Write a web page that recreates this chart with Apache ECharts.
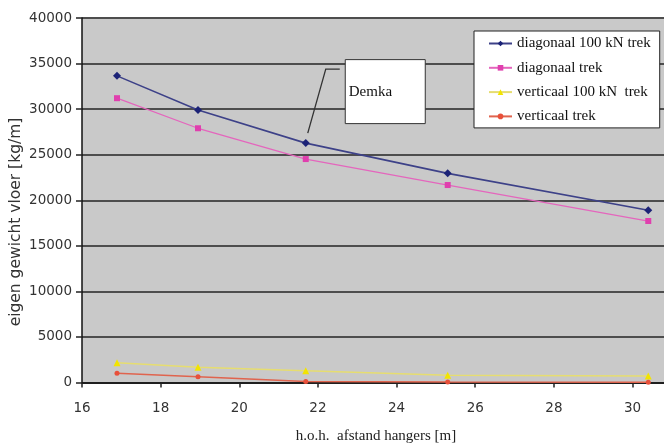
<!DOCTYPE html>
<html>
<head>
<meta charset="utf-8">
<script src="https://cdn.jsdelivr.net/npm/echarts@6/dist/echarts.min.js"></script>
<style>html,body{margin:0;padding:0;background:#fff}#c{width:664px;height:443px}</style>
</head>
<body>
<div id="c"></div>
<script>
// h.o.h. afstand hangers [m]
const xValues = [16.89, 18.95, 21.69, 25.3, 30.4];
const diagonaal100 = [33650, 29900, 26270, 22950, 18900];
const diagonaalTrek = [31200, 27900, 24520, 21670, 17720];
const verticaal100 = [2170, 1670, 1300, 800, 720];
const verticaalTrek = [1010, 640, 120, 50, 40];
const seriesNames = ['diagonaal 100 kN trek', 'diagonaal trek', 'verticaal 100 kN  trek', 'verticaal trek'];
const xTicks = [16, 18, 20, 22, 24, 26, 28, 30];
const yTicks = [0, 5000, 10000, 15000, 20000, 25000, 30000, 35000, 40000];

const pairs = arr => xValues.map((x, i) => [x, arr[i]]);
const chart = echarts.init(document.getElementById('c'));
const serif = 'Liberation Serif';
const sans = 'DejaVu Sans';

chart.setOption({
  animation: false,
  backgroundColor: '#ffffff',
  grid: {left: 82, top: 18, right: 0, bottom: 60.5, show: true, backgroundColor: '#c9c9c9', borderWidth: 0,
         containLabel: false, outerBoundsMode: 'none'},
  legend: {
    orient: 'vertical', left: 474, top: 31,
    backgroundColor: '#ffffff', borderColor: '#222', borderWidth: 1,
    padding: [5, 9, 4, 14], itemWidth: 23, itemHeight: 7, itemGap: 9.3,
    textStyle: {fontFamily: serif, fontSize: 15, color: '#111', lineHeight: 14},
    data: seriesNames
  },
  xAxis: {
    type: 'value', min: 16, max: 30.8,
    axisLine: {show: true, lineStyle: {color: '#111', width: 1.5}},
    axisTick: {show: true, length: 5, lineStyle: {color: '#222', width: 1.5}, customValues: xTicks},
    axisLabel: {customValues: xTicks, fontFamily: sans, fontSize: 13.5, color: '#333', margin: 19},
    splitLine: {show: false},
    name: 'h.o.h.  afstand hangers [m]', nameLocation: 'middle', nameGap: 46,
    nameTextStyle: {fontFamily: serif, fontSize: 15, color: '#222', padding: [0, 0, 0, 6]}
  },
  yAxis: {
    type: 'value', min: 0, max: 40000, interval: 5000,
    axisLine: {show: true, lineStyle: {color: '#111', width: 1.5}},
    axisTick: {show: true, length: 6, lineStyle: {color: '#222', width: 1.5}},
    axisLabel: {customValues: yTicks, formatter: v => String(v), fontFamily: sans, fontSize: 13.5, color: '#333', margin: 10},
    splitLine: {show: true, lineStyle: {color: '#4d4d4d', width: 2}}
  },
  series: [
    {name: seriesNames[0], type: 'line', data: pairs(diagonaal100), symbol: 'diamond', symbolSize: 8,
     itemStyle: {color: '#1c2377'}, lineStyle: {color: '#3d4188', width: 1.6}},
    {name: seriesNames[1], type: 'line', data: pairs(diagonaalTrek), symbol: 'rect', symbolSize: 6,
     itemStyle: {color: '#e03fae'}, lineStyle: {color: '#e466bd', width: 1.3}},
    {name: seriesNames[2], type: 'line', data: pairs(verticaal100), symbol: 'triangle', symbolSize: 7,
     itemStyle: {color: '#f2e400'}, lineStyle: {color: '#e6dd70', width: 1.5}},
    {name: seriesNames[3], type: 'line', data: pairs(verticaalTrek), symbol: 'circle', symbolSize: 5,
     itemStyle: {color: '#e8503a'}, lineStyle: {color: '#e0644e', width: 1.5}}
  ]
});

// callout "Demka" anchored at the third point of the first series
const a = chart.convertToPixel({gridIndex: 0}, [xValues[2], diagonaal100[2]]);
chart.setOption({
  graphic: [
    {type: 'polyline', z: 100, shape: {points: [[a[0] + 2, a[1] - 10], [a[0] + 20, a[1] - 74], [a[0] + 34, a[1] - 74]]},
     style: {stroke: '#333', lineWidth: 1.3, fill: null}},
    {type: 'rect', z: 100, shape: {x: a[0] + 39.5, y: a[1] - 83.5, width: 80, height: 64},
     style: {fill: '#ffffff', stroke: '#333', lineWidth: 1}},
    {type: 'text', z: 101, x: a[0] + 43, y: a[1] - 51,
     style: {text: 'Demka', font: '15px "Liberation Serif"', fill: '#111', verticalAlign: 'middle', align: 'left'}},
    {type: 'text', z: 101, x: 16, y: 222, rotation: Math.PI / 2,
     style: {text: 'eigen gewicht vloer [kg/m]', font: '15.5px "DejaVu Sans"', fill: '#333', align: 'center', verticalAlign: 'middle'}}
  ]
});
</script>
</body>
</html>
